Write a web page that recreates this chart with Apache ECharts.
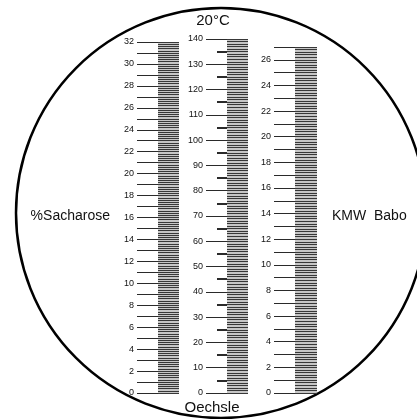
<!DOCTYPE html>
<html>
<head>
<meta charset="utf-8">
<script src="https://cdn.jsdelivr.net/npm/echarts@6/dist/echarts.min.js"></script>
<style>html,body{margin:0;padding:0;background:#fff}#c{width:417px;height:419px}</style>
</head>
<body>
<div id="c"></div>
<script>
// ---- scale data ----
const sacharoseRange = [0, 32];
const sacharoseTicks = [0,1,2,3,4,5,6,7,8,9,10,11,12,13,14,15,16,17,18,19,20,21,22,23,24,25,26,27,28,29,30,31,32];
const sacharoseLabels = [0,2,4,6,8,10,12,14,16,18,20,22,24,26,28,30,32];
const sacharoseHatch = 0.2;

const oechsleRange = [0, 140];
const oechsleLabels = [0,10,20,30,40,50,60,70,80,90,100,110,120,130,140];
const oechsleMidTicks = [5,15,25,35,45,55,65,75,85,95,105,115,125,135];
const oechsleHatch = 1;

const kmwRange = [0, 27];
const kmwTicks = [0,1,2,3,4,5,6,7,8,9,10,11,12,13,14,15,16,17,18,19,20,21,22,23,24,25,26,27];
const kmwLabels = [0,2,4,6,8,10,12,14,16,18,20,22,24,26];
const kmwHatch = 0.2;

const titles = { top: '20°C', bottom: 'Oechsle', left: '%Sacharose', right: 'KMW  Babo' };

// ---- build ----
const FONT = 'Liberation Sans, Arial, sans-serif';
const grids = [
  { left: 158, width: 21, top: 42, height: 351 },
  { left: 227, width: 21, top: 39, height: 354 },
  { left: 295, width: 22, top: 47, height: 346 }
];
const hatchLine = { show: true, lineStyle: { color: '#383838', width: 1 } };

function tickAxis(grid, range, ticks, labels, len, width, showLabel) {
  return {
    type: 'value', gridIndex: grid, position: 'left', min: range[0], max: range[1],
    axisLine: { show: false }, splitLine: { show: false },
    axisTick: { show: true, length: len, inside: false, customValues: ticks, lineStyle: { color: '#2a2a2a', width: width } },
    axisLabel: { show: showLabel, customValues: labels, margin: len + 3, fontSize: 9, color: '#111', fontFamily: FONT }
  };
}
function hatchAxis(grid, range, step) {
  return {
    type: 'value', gridIndex: grid, position: 'left', min: range[0], max: range[1], interval: step,
    axisLine: { show: false }, axisTick: { show: false }, axisLabel: { show: false },
    splitLine: hatchLine
  };
}

const yAxis = [
  hatchAxis(0, sacharoseRange, sacharoseHatch),
  tickAxis(0, sacharoseRange, sacharoseTicks, sacharoseLabels, 21, 1, true),
  hatchAxis(1, oechsleRange, oechsleHatch),
  tickAxis(1, oechsleRange, oechsleLabels, oechsleLabels, 21, 1, true),
  tickAxis(1, oechsleRange, oechsleMidTicks, [], 10, 2, false),
  hatchAxis(2, kmwRange, kmwHatch),
  tickAxis(2, kmwRange, kmwTicks, kmwLabels, 21, 1, true)
];
const xAxis = [0,1,2].map(i => ({ type: 'value', gridIndex: i, min: 0, max: 1, show: false }));
const series = [[0,0],[1,2],[2,5]].map(([g, y]) => ({ type: 'scatter', xAxisIndex: g, yAxisIndex: y, data: [], silent: true }));

const txt = (text, x, y, align, size) => ({
  type: 'text', x: x, y: y, silent: true,
  style: { text: text, fill: '#111', font: size + 'px ' + FONT, textAlign: align, textVerticalAlign: 'middle' }
});

const chart = echarts.init(document.getElementById('c'), null, { renderer: 'canvas' });
chart.setOption({
  animation: false,
  grid: grids.map(g => Object.assign({ containLabel: false, show: true, backgroundColor: '#c6c6c6', borderWidth: 0 }, g)),
  xAxis: xAxis,
  yAxis: yAxis,
  series: series,
  graphic: [
    { type: 'circle', shape: { cx: 221, cy: 213, r: 205 }, style: { fill: 'none', stroke: '#000', lineWidth: 2.5 }, silent: true },
    txt(titles.top, 213, 21, 'center', 15),
    txt(titles.bottom, 212, 408, 'center', 15),
    txt(titles.left, 110, 216, 'right', 14),
    txt(titles.right, 332, 216, 'left', 14)
  ]
});
</script>
</body>
</html>
